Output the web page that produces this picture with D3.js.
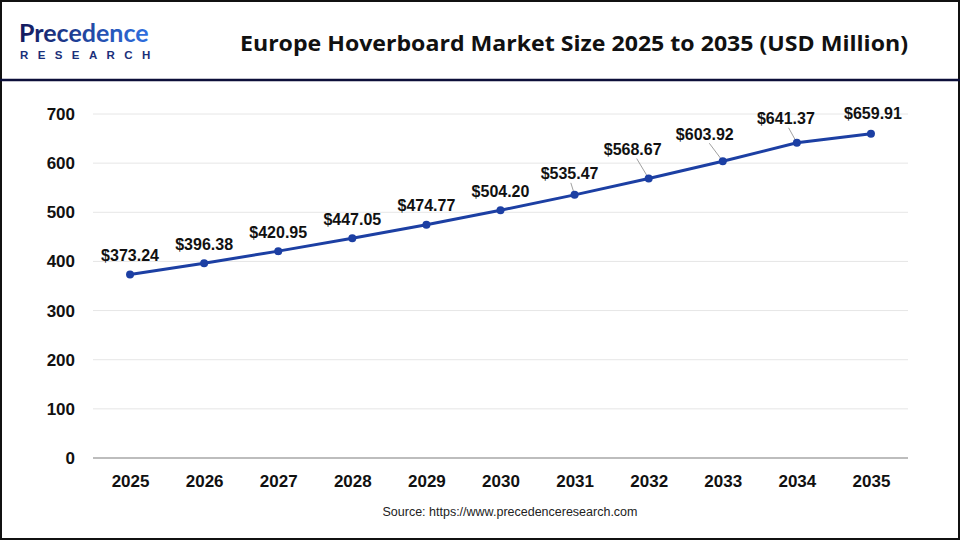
<!DOCTYPE html>
<html><head><meta charset="utf-8">
<script src="https://cdn.jsdelivr.net/npm/d3@7"></script>
<style>html,body{margin:0;padding:0;background:#fff;}svg{display:block;}</style>
</head><body>
<svg id="c" width="960" height="540"></svg>
<script>
const years = ["2025","2026","2027","2028","2029","2030","2031","2032","2033","2034","2035"];
const values = [373.24,396.38,420.95,447.05,474.77,504.20,535.47,568.67,603.92,641.37,659.91];
const yTicks = [0,100,200,300,400,500,600,700];
const title = "Europe Hoverboard Market Size 2025 to 2035 (USD Million)";
const source = "Source: https://www.precedenceresearch.com";
// label placement (layout only): [dx, dy, leader]
const labelLayout = [[0,-19,0],[0,-19,0],[0,-19,0],[0,-19,0],[0,-19,0],[0,-19,0],[-5,-21,1],[-16,-29,1],[-18,-27,1],[-11,-24,1],[2,-20,0]];

const svg = d3.select("#c");
svg.append("rect").attr("x",1).attr("y",1).attr("width",958).attr("height",538).attr("fill","#fff").attr("stroke","#111").attr("stroke-width",2);
svg.append("line").attr("x1",0).attr("x2",960).attr("y1",80).attr("y2",80).attr("stroke","#0c0f3a").attr("stroke-width",2.5);

// logo
const logo = svg.append("g");
const grad = svg.append("defs").append("linearGradient").attr("id","lg").attr("x1","0").attr("x2","1");
grad.append("stop").attr("offset","0").attr("stop-color","#141a5c");
grad.append("stop").attr("offset","1").attr("stop-color","#2f6fe0");
logo.append("text").attr("x",19).attr("y",42).attr("font-family","Lato, 'Noto Sans', sans-serif").attr("font-size",25).attr("font-weight",700).attr("fill","url(#lg)").attr("letter-spacing",0).text("Precedence");
logo.append("text").attr("x",20).attr("y",59).attr("font-family","'Liberation Sans', Arial, sans-serif").attr("font-size",11.5).attr("font-weight",700).attr("fill","#1a2f7a").attr("letter-spacing",9.4).text("RESEARCH");

svg.append("text").attr("x",574).attr("y",51).attr("text-anchor","middle")
  .attr("font-family","'Open Sans', 'Noto Sans', sans-serif").attr("font-weight",700).attr("font-size",22)
  .attr("fill","#111").attr("textLength",668).attr("lengthAdjust","spacingAndGlyphs").text(title);

const x = d3.scalePoint().domain(years).range([93,908]).padding(0.5);
const y = d3.scaleLinear().domain([0,700]).range([458,114]);

const font = "'Liberation Sans', Arial, sans-serif";
// grid
svg.append("g").selectAll("line").data(yTicks.filter(d=>d>0)).join("line")
  .attr("x1",93).attr("x2",908).attr("y1",d=>y(d)).attr("y2",d=>y(d)).attr("stroke","#e6e6e6").attr("stroke-width",1);
svg.append("line").attr("x1",93).attr("x2",908).attr("y1",y(0)).attr("y2",y(0)).attr("stroke","#bdbdbd").attr("stroke-width",2);

const yAxis = svg.append("g").attr("transform","translate(93,0)").call(d3.axisLeft(y).tickValues(yTicks).tickSize(0).tickPadding(18));
yAxis.select(".domain").remove();
yAxis.selectAll("text").attr("font-family",font).attr("font-weight",700).attr("font-size",17).attr("fill","#111");

const xAxis = svg.append("g").attr("transform","translate(0,"+y(0)+")").call(d3.axisBottom(x).tickSize(0).tickPadding(17));
xAxis.select(".domain").remove();
xAxis.selectAll("text").attr("font-family",font).attr("font-weight",700).attr("font-size",17).attr("fill","#111");

const data = years.map((yr,i)=>({yr, v:values[i], l:labelLayout[i]}));
svg.append("path").datum(data).attr("fill","none").attr("stroke","#1c3fa3").attr("stroke-width",3)
  .attr("d", d3.line().x(d=>x(d.yr)).y(d=>y(d.v)));

// leader lines
svg.append("g").selectAll("line").data(data.filter(d=>d.l[2])).join("line")
  .attr("x1",d=>x(d.yr)+d.l[0]*0.75).attr("y1",d=>y(d.v)+d.l[1]+9)
  .attr("x2",d=>x(d.yr)).attr("y2",d=>y(d.v))
  .attr("stroke","#888").attr("stroke-width",0.8);

svg.append("g").selectAll("circle").data(data).join("circle")
  .attr("cx",d=>x(d.yr)).attr("cy",d=>y(d.v)).attr("r",4).attr("fill","#1c3fa3");

svg.append("g").selectAll("text").data(data).join("text")
  .attr("x",d=>x(d.yr)+d.l[0]).attr("y",d=>y(d.v)+d.l[1]).attr("dy","0.35em").attr("text-anchor","middle")
  .attr("font-family",font).attr("font-weight",700).attr("font-size",16).attr("fill","#111")
  .text(d=>"$"+d3.format(".2f")(d.v));

svg.append("text").attr("x",510).attr("y",516).attr("text-anchor","middle").attr("font-family",font)
  .attr("font-size",12.5).attr("fill","#222").text(source);
</script>
</body></html>
